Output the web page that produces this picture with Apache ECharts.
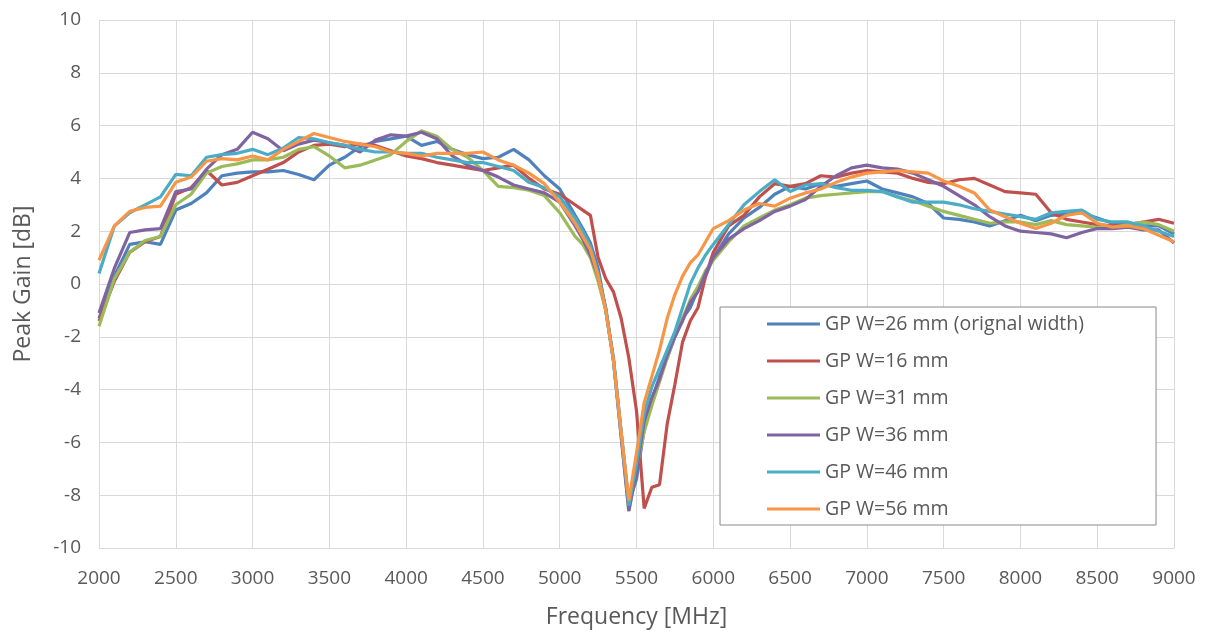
<!DOCTYPE html>
<html>
<head>
  <meta charset="utf-8" />
  <title>Peak Gain</title>
  <script src="https://cdn.jsdelivr.net/npm/echarts@6/dist/echarts.min.js"></script>
  <style>
    html, body { margin: 0; padding: 0; background: #fff; }
  </style>
</head>
<body>
<div id="main" style="width: 1207px;height:637px;"></div>
<script type="text/javascript">
  // frequency grid (MHz), denser around the notch
  var freq = [2000,2100,2200,2300,2400,2500,2600,2700,2800,2900,3000,3100,3200,3300,3400,3500,3600,3700,3800,3900,
    4000,4100,4200,4300,4400,4500,4600,4700,4800,4900,5000,5100,
    5150,5200,5250,5300,5350,5400,5450,5500,5550,5600,5650,5700,5750,5800,5850,5900,5950,
    6000,6100,6200,6300,6400,6500,6600,6700,6800,6900,7000,7100,7200,7300,7400,7500,7600,7700,7800,7900,
    8000,8100,8200,8300,8400,8500,8600,8700,8800,8900,9000];

  var w26 = [-1.3,0.3,1.5,1.6,1.5,2.8,3.05,3.45,4.1,4.2,4.25,4.25,4.3,4.15,3.95,4.5,4.8,5.2,5.4,5.5,
    5.6,5.25,5.4,5.1,4.9,4.75,4.8,5.1,4.7,4.1,3.6,2.6,
    2.1,1.55,0.6,-1.0,-2.8,-5.6,-8.3,-7.4,-5.5,-4.4,-3.5,-2.8,-2.0,-1.3,-0.9,-0.2,0.3,
    1.0,1.9,2.5,2.9,3.4,3.7,3.6,3.8,3.7,3.8,3.9,3.6,3.45,3.3,3.05,2.5,2.45,2.35,2.2,2.4,
    2.6,2.4,2.6,2.65,2.7,2.5,2.3,2.25,2.2,2.2,1.9];

  var w16 = [-1.4,0.1,1.2,1.6,1.8,3.4,3.65,4.3,3.75,3.85,4.1,4.35,4.6,5.0,5.25,5.3,5.2,5.3,5.25,5.05,
    4.85,4.75,4.6,4.5,4.4,4.3,4.4,4.5,4.0,3.6,3.4,3.0,
    2.8,2.6,1.0,0.2,-0.3,-1.3,-2.8,-4.8,-8.5,-7.7,-7.6,-5.3,-3.8,-2.2,-1.4,-0.9,0.3,
    1.2,2.2,2.6,3.3,3.8,3.7,3.8,4.1,4.05,4.2,4.3,4.25,4.2,4.0,3.85,3.8,3.95,4.0,3.75,3.5,
    3.45,3.4,2.7,2.45,2.35,2.25,2.2,2.25,2.35,2.45,2.3];

  var w31 = [-1.6,0.2,1.2,1.65,1.8,3.0,3.4,4.2,4.45,4.55,4.7,4.7,4.8,5.1,5.2,4.85,4.4,4.5,4.7,4.9,
    5.4,5.8,5.6,5.1,4.8,4.3,3.7,3.65,3.55,3.35,2.7,1.8,
    1.5,1.0,0.1,-1.0,-2.9,-5.7,-8.6,-7.0,-5.6,-4.6,-3.7,-2.8,-2.0,-1.3,-0.6,-0.1,0.5,
    0.9,1.6,2.2,2.5,2.8,3.0,3.25,3.35,3.4,3.45,3.5,3.5,3.3,3.15,2.95,2.75,2.6,2.45,2.3,2.35,
    2.35,2.25,2.4,2.25,2.2,2.15,2.15,2.25,2.35,2.25,2.0];

  var w36 = [-1.1,0.6,1.95,2.05,2.1,3.5,3.6,4.35,4.9,5.1,5.75,5.5,5.05,5.3,5.45,5.35,5.25,5.0,5.45,5.65,
    5.6,5.75,5.5,4.85,4.5,4.3,4.05,3.75,3.6,3.45,3.1,2.2,
    1.7,1.1,0.3,-0.9,-2.9,-5.8,-8.6,-7.1,-5.2,-4.3,-3.6,-2.7,-2.0,-1.4,-0.7,-0.3,0.4,
    1.0,1.7,2.1,2.4,2.75,2.95,3.2,3.7,4.1,4.4,4.5,4.4,4.35,4.2,3.95,3.7,3.35,3.0,2.55,2.2,
    2.0,1.95,1.9,1.75,1.95,2.1,2.1,2.15,2.05,2.05,1.55];

  var w46 = [0.4,2.2,2.7,3.0,3.3,4.15,4.1,4.8,4.9,4.95,5.1,4.9,5.15,5.55,5.5,5.35,5.25,5.1,5.0,5.0,
    4.95,4.95,4.8,4.7,4.6,4.6,4.45,4.3,3.85,3.65,3.3,2.5,
    2.0,1.4,0.4,-1.0,-2.9,-5.6,-8.4,-6.8,-4.9,-3.9,-3.2,-2.5,-1.8,-0.9,0.0,0.6,1.1,
    1.5,2.25,3.0,3.5,3.95,3.5,3.75,3.8,3.65,3.55,3.55,3.5,3.3,3.1,3.1,3.1,3.0,2.85,2.75,2.65,
    2.55,2.45,2.7,2.75,2.8,2.45,2.35,2.35,2.2,2.0,1.8];

  var w56 = [0.9,2.2,2.75,2.9,2.95,3.85,4.05,4.65,4.75,4.7,4.85,4.7,5.1,5.4,5.7,5.55,5.4,5.3,5.2,5.0,
    4.95,4.85,4.95,4.95,4.95,5.0,4.7,4.5,4.2,3.8,3.1,2.3,
    1.8,1.3,0.3,-1.0,-2.9,-5.6,-8.2,-6.4,-4.5,-3.5,-2.5,-1.3,-0.4,0.3,0.8,1.1,1.6,
    2.1,2.4,2.8,3.05,2.95,3.25,3.45,3.6,3.85,4.05,4.2,4.25,4.3,4.25,4.2,3.9,3.7,3.45,2.8,2.55,
    2.3,2.1,2.3,2.6,2.7,2.3,2.15,2.2,2.1,1.85,1.6];

  var names = ['GP W=26 mm (orignal width)','GP W=16 mm','GP W=31 mm','GP W=36 mm','GP W=46 mm','GP W=56 mm'];
  var values = [w26, w16, w31, w36, w46, w56];
  var colors = ['#4F81BD','#C0504D','#9BBB59','#8064A2','#4BACC6','#F79646'];

  function pairs(ys) {
    var out = [];
    for (var i = 0; i < freq.length; i++) out.push([freq[i], ys[i]]);
    return out;
  }

  var series = [];
  for (var k = 0; k < names.length; k++) {
    series.push({
      name: names[k],
      type: 'line',
      data: pairs(values[k]),
      symbol: 'none',
      lineStyle: { width: 3.2, color: colors[k] },
      itemStyle: { color: colors[k] }
    });
  }

  var chart = echarts.init(document.getElementById('main'));
  var txt = '#595959';
  var font = 'Open Sans';
  var option = {
    animation: false,
    color: colors,
    textStyle: { fontFamily: font },
    grid: { left: 99, right: 33, top: 20, bottom: 89 },
    legend: {
      orient: 'vertical',
      left: 720,
      top: 307,
      padding: [7, 72, 6, 47],
      itemWidth: 53,
      itemHeight: 20,
      itemGap: 17,
      icon: 'path://M0,0 H53 V3 H0 Z',
      borderColor: '#888',
      borderWidth: 1,
      backgroundColor: '#fff',
      textStyle: { color: txt, fontSize: 19.5, fontFamily: font },
      data: names
    },
    xAxis: {
      type: 'value',
      min: 2000, max: 9000, interval: 500,
      name: 'Frequency [MHz]',
      nameLocation: 'middle',
      nameGap: 58,
      nameTextStyle: { color: txt, fontSize: 23, fontFamily: font },
      axisLine: { show: true, lineStyle: { color: '#d9d9d9' } },
      axisTick: { show: false },
      axisLabel: { color: txt, fontSize: 19, margin: 21, fontFamily: font,
        formatter: function (v) { return String(v); } },
      splitLine: { show: true, lineStyle: { color: '#d9d9d9' } }
    },
    yAxis: {
      type: 'value',
      min: -10, max: 10, interval: 2,
      name: 'Peak Gain [dB]',
      nameLocation: 'middle',
      nameGap: 64,
      nameTextStyle: { color: txt, fontSize: 23, fontFamily: font },
      axisLine: { show: true, lineStyle: { color: '#d9d9d9' } },
      axisTick: { show: false },
      axisLabel: { color: txt, fontSize: 19, margin: 18, fontFamily: font },
      splitLine: { show: true, lineStyle: { color: '#d9d9d9' } }
    },
    series: series
  };
  chart.setOption(option);
</script>
</body>
</html>
